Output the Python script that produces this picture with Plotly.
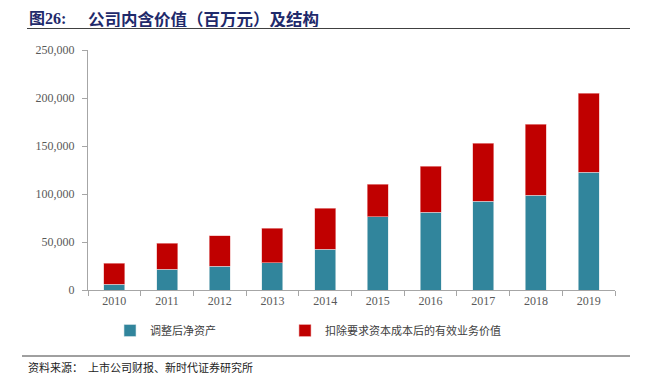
import plotly.graph_objects as go

years = ["2010", "2011", "2012", "2013", "2014", "2015", "2016", "2017", "2018", "2019"]
net_assets = [5900, 21500, 25000, 28500, 42400, 76400, 80900, 92700, 98600, 122600]
business_value = [21900, 27100, 31600, 35700, 42700, 33600, 47900, 60300, 74300, 82300]
series_names = ["调整后净资产", "扣除要求资本成本后的有效业务价值"]
y_ticks = [0, 50000, 100000, 150000, 200000, 250000]

# page body has an 8px margin; work in window pixel coordinates and shift
OFF = 8
W, H = 646 - OFF, 374 - OFF
L, R, T, B = 88 - OFF, 615 - OFF, 50 - OFF, 290 - OFF


def px(x):
    return (x - OFF - L) / (R - L)


def py(y):
    return (B - (y - OFF)) / (B - T)


fig = go.Figure()
fig.add_trace(go.Bar(x=years, y=net_assets, name=series_names[0], legend="legend",
                     marker=dict(color="#31859C", line=dict(width=0.6, color="#d8e6ea")), width=0.4))
fig.add_trace(go.Bar(x=years, y=business_value, name=series_names[1], legend="legend2",
                     marker=dict(color="#C00000", line=dict(width=0.6, color="#f0b0b0")), width=0.4))

axis_font = dict(family="Liberation Serif, Times New Roman, serif", size=12, color="#595959")
legend_font = dict(family="Noto Sans CJK SC", size=11, color="#404040")

fig.update_layout(
    width=W, height=H,
    barmode="stack",
    plot_bgcolor="white", paper_bgcolor="white",
    margin=dict(l=L, r=W - R, t=T, b=H - B, autoexpand=False),
    showlegend=True,
    legend=dict(orientation="h", x=px(110), y=py(316), xanchor="left", yanchor="top",
                font=legend_font, itemwidth=30),
    legend2=dict(orientation="h", x=px(285), y=py(316), xanchor="left", yanchor="top",
                 font=legend_font, itemwidth=30),
    xaxis=dict(type="category", showline=True, linecolor="#a6a6a6", linewidth=1,
               ticks="outside", tickson="boundaries", ticklen=5, tickcolor="#a6a6a6",
               tickfont=axis_font, showgrid=False),
    yaxis=dict(range=[0, 250000], tickvals=y_ticks, tickformat=",d",
               showline=True, linecolor="#a6a6a6", linewidth=1,
               ticks="outside", ticklen=5, tickcolor="#a6a6a6", ticklabelstandoff=5,
               tickfont=axis_font, showgrid=False, zeroline=False),
)

fig.add_annotation(xref="paper", yref="paper", x=px(27), y=py(18), xanchor="left", yanchor="middle",
                   text="<b>图26:</b>", showarrow=False, height=17, valign="middle",
                   font=dict(family="Liberation Serif, Noto Sans CJK SC", size=16, color="#1F2A6B"))
fig.add_annotation(xref="paper", yref="paper", x=px(86), y=py(18), xanchor="left", yanchor="middle",
                   text="<b>公司内含价值（百万元）及结构</b>", showarrow=False, height=17, valign="middle",
                   font=dict(family="Noto Sans CJK SC", size=16.5, color="#1F2A6B"))
fig.add_annotation(xref="paper", yref="paper", x=px(26), y=py(366.5), xanchor="left", yanchor="middle",
                   text="资料来源：  上市公司财报、新时代证券研究所", showarrow=False, height=13, valign="middle",
                   font=dict(family="Noto Sans CJK SC", size=11, color="#222222"))

fig.add_shape(type="line", xref="paper", yref="paper", x0=px(27), x1=px(630), y0=py(28.5), y1=py(28.5),
              line=dict(color="#404040", width=1))
fig.add_shape(type="line", xref="paper", yref="paper", x0=px(22), x1=px(630), y0=py(356), y1=py(356),
              line=dict(color="#404040", width=1))

fig.write_html("out.html")
